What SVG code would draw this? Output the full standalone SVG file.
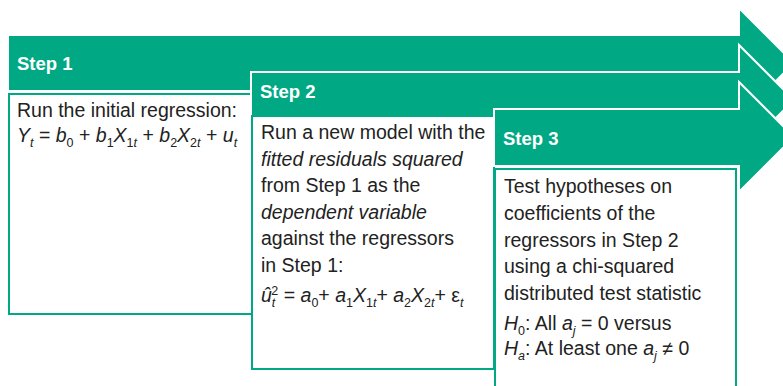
<svg xmlns="http://www.w3.org/2000/svg" width="783" height="386" viewBox="0 0 783 386">
<style>
.arrow{fill:#00A884;stroke:#ffffff;stroke-width:2;stroke-linejoin:miter}
.box{fill:#ffffff;stroke:#00A884;stroke-width:2}
.head{font-family:"Liberation Sans",Arial,sans-serif;font-weight:bold;font-size:18.5px;fill:#ffffff}
.body{font-family:"Liberation Sans",Arial,sans-serif;font-size:19.5px;fill:#222222}
.i{font-style:italic}
.sub{font-size:12.5px}
</style>
<rect width="783" height="386" fill="#ffffff"/>
<g id="step1">
<polygon class="arrow" points="8,35 739,35 739,8 794,63 739,118 739,91 8,91"/>
<rect class="box" x="9" y="94" width="243" height="220"/>
<text class="head" x="17" y="70">Step 1</text>
<text class="body" x="17" y="117">Run the initial regression:</text>
<text class="body" x="17" y="142"><tspan class="i">Y</tspan><tspan class="sub i" dy="5">t</tspan><tspan dy="-5"> = </tspan><tspan class="i">b</tspan><tspan class="sub" dy="5">0</tspan><tspan dy="-5"> + </tspan><tspan class="i">b</tspan><tspan class="sub" dy="5">1</tspan><tspan class="i" dy="-5">X</tspan><tspan class="sub" dy="5">1</tspan><tspan class="sub i">t</tspan><tspan dy="-5"> + </tspan><tspan class="i">b</tspan><tspan class="sub" dy="5">2</tspan><tspan class="i" dy="-5">X</tspan><tspan class="sub" dy="5">2</tspan><tspan class="sub i">t</tspan><tspan dy="-5"> + </tspan><tspan class="i">u</tspan><tspan class="sub i" dy="5">t</tspan></text>
</g>
<g id="step2">
<polygon class="arrow" points="251,72 739,72 739,45 794,100 739,155 739,128 251,128"/>
<rect class="box" x="252" y="116" width="242" height="253"/>
<text class="head" x="260" y="98">Step 2</text>
<text class="body" x="261" y="139">Run a new model with the</text>
<text class="body i" x="261" y="165.5">fitted residuals squared</text>
<text class="body" x="261" y="192">from Step 1 as the</text>
<text class="body i" x="261" y="218.5">dependent variable</text>
<text class="body" x="261" y="245">against the regressors</text>
<text class="body" x="261" y="271.5">in Step 1:</text>
<text class="body" x="261" y="302"><tspan class="i">û</tspan><tspan class="sub i" dy="5">t</tspan><tspan class="sub" dx="-4" dy="-12">2</tspan><tspan dy="7"> = </tspan><tspan class="i">a</tspan><tspan class="sub" dy="5">0</tspan><tspan dy="-5">+ </tspan><tspan class="i">a</tspan><tspan class="sub" dy="5">1</tspan><tspan class="i" dy="-5">X</tspan><tspan class="sub" dy="5">1</tspan><tspan class="sub i">t</tspan><tspan dy="-5">+ </tspan><tspan class="i">a</tspan><tspan class="sub" dy="5">2</tspan><tspan class="i" dy="-5">X</tspan><tspan class="sub" dy="5">2</tspan><tspan class="sub i">t</tspan><tspan dy="-5">+ ε</tspan><tspan class="sub i" dy="5">t</tspan></text>
</g>
<g id="step3">
<polygon class="arrow" points="494,109 739,109 739,82 794,137 739,192 739,166 494,166"/>
<rect class="box" x="495" y="169" width="241" height="230"/>
<text class="head" x="503" y="145">Step 3</text>
<text class="body" x="504" y="193">Test hypotheses on</text>
<text class="body" x="504" y="220">coefficients of the</text>
<text class="body" x="504" y="246.5">regressors in Step 2</text>
<text class="body" x="504" y="273">using a chi-squared</text>
<text class="body" x="504" y="300">distributed test statistic</text>
<text class="body" x="504" y="330"><tspan class="i">H</tspan><tspan class="sub" dy="5">0</tspan><tspan dy="-5">: All </tspan><tspan class="i">a</tspan><tspan class="sub i" dy="5">j</tspan><tspan dy="-5"> = 0 versus</tspan></text>
<text class="body" x="504" y="355"><tspan class="i">H</tspan><tspan class="sub i" dy="5">a</tspan><tspan dy="-5">: At least one </tspan><tspan class="i">a</tspan><tspan class="sub i" dy="5">j</tspan><tspan dy="-5"> ≠ 0</tspan></text>
</g>
<g id="connectors"/>
</svg>
